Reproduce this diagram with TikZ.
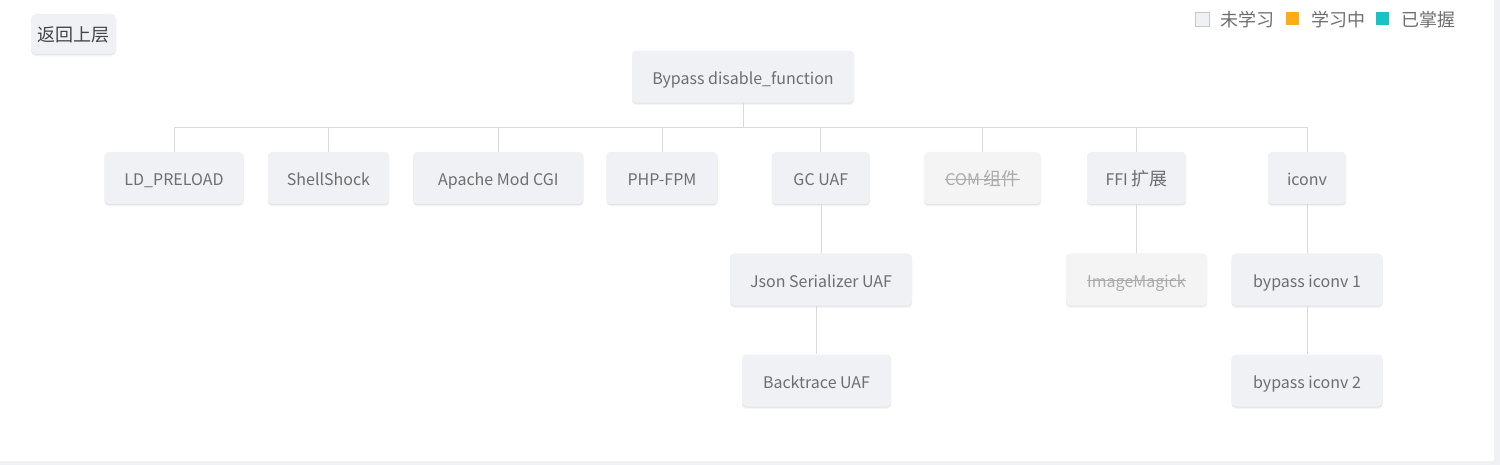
\documentclass[tikz,border=0pt]{standalone}
\usepackage{fontspec}
\setmainfont{Noto Sans CJK SC}
\usetikzlibrary{shadows}
\definecolor{nodefill}{HTML}{F0F1F5}
\definecolor{txt}{HTML}{6E6E6E}
\definecolor{darktxt}{HTML}{444444}
\definecolor{edgec}{HTML}{D9D9D9}
\definecolor{dimfill}{HTML}{F4F4F5}
\definecolor{dimtxt}{HTML}{ABABAB}
\definecolor{orangec}{HTML}{FCAC17}
\definecolor{tealc}{HTML}{17C3C3}
\definecolor{barc}{HTML}{F0F1F5}
\definecolor{chkborder}{HTML}{C8C8C8}
\newsavebox\strkbox
\newcommand\strk[1]{\sbox\strkbox{#1}\rlap{\usebox\strkbox}\raisebox{0.39em}{\rule{\wd\strkbox}{0.7pt}}}
\newcommand\nodefont{\fontsize{16}{19}\selectfont}
\newcommand\zh[1]{{\fontsize{18}{20}\selectfont #1}}
\tikzset{
  softshadow/.style={
    drop shadow={shadow xshift=0pt, shadow yshift=-1pt, opacity=0.07, fill=black},
    drop shadow={shadow xshift=0pt, shadow yshift=-2.5pt, opacity=0.04, fill=black}},
  box/.style={fill=nodefill, rounded corners=4pt, text=txt, minimum height=52pt,
    inner xsep=0pt, inner ysep=0pt, font=\nodefont, text height=15.8pt, text depth=0.2pt, softshadow},
  dimbox/.style={box, fill=dimfill, text=dimtxt},
  link/.style={draw=edgec, line width=1pt},
  legtext/.style={text=txt, font=\nodefont, inner sep=0pt, anchor=base west},
}
\begin{document}
\begin{tikzpicture}[x=1pt,y=-1pt]
\useasboundingbox (0,0) rectangle (1500,465);
\fill[white] (0,0) rectangle (1500,465);
\fill[barc] (1494,0) rectangle (1500,465);
\fill[barc] (0,461) rectangle (1500,465);

% back button
\node[box, text=darktxt, minimum width=85pt, minimum height=40pt, rounded corners=5pt, text height=15pt] (back) at (73.5,34) {\zh{返回上层}};

% legend
\node[draw=chkborder, fill=nodefill, line width=0.8pt, minimum size=14pt, inner sep=0pt] (chk) at (1202.5,19.3) {};
\node[legtext] (l1) at (1220,26.5) {\zh{未学习}};
\node[fill=orangec, minimum size=12.5pt, inner sep=0pt] (sqo) at (1292.5,18.7) {};
\node[legtext] (l2) at (1311,26.5) {\zh{学习中}};
\node[fill=tealc, minimum size=12.5pt, inner sep=0pt] (sqt) at (1382.5,18.7) {};
\node[legtext] (l3) at (1401,26.5) {\zh{已掌握}};

% nodes
\node[box, minimum width=222pt] (root) at (743,76.7) {Bypass disable\_function};
\node[box, minimum width=139pt] (ld) at (174,178) {LD\_PRELOAD};
\node[box, minimum width=121pt] (shell) at (328.5,178) {ShellShock};
\node[box, minimum width=170pt] (apache) at (498.3,178) {Apache Mod CGI};
\node[box, minimum width=111pt] (php) at (662,178) {PHP-FPM};
\node[box, minimum width=98pt] (gc) at (820.8,178) {GC UAF};
\node[dimbox, minimum width=117pt] (com) at (982.5,178) {\strk{COM \zh{组件}}};
\node[box, minimum width=99pt] (ffi) at (1136.5,178) {FFI \zh{扩展}};
\node[box, minimum width=78pt] (iconv) at (1307,178) {iconv};
\node[box, minimum width=182pt] (json) at (821,279.5) {Json Serializer UAF};
\node[dimbox, minimum width=141pt] (img) at (1136.5,279.5) {\strk{ImageMagick}};
\node[box, minimum width=151pt] (ic1) at (1307,279.5) {bypass iconv 1};
\node[box, minimum width=149pt] (bt) at (816.5,380.5) {Backtrace UAF};
\node[box, minimum width=151pt] (ic2) at (1307,380.5) {bypass iconv 2};

\coordinate (hl) at (743,127.5);
% connectors
\draw[link] (root.south) -- (root.south |- hl);
\draw[link] (ld.north |- hl) -- (iconv.north |- hl);
\foreach \c in {ld,shell,apache,php,gc,com,ffi,iconv}
  \draw[link] (\c.north) -- (\c.north |- hl);
\draw[link] (json.north) -- (json.north |- gc.south);
\draw[link] (bt.north) -- (bt.north |- json.south);
\draw[link] (img.north) -- (img.north |- ffi.south);
\draw[link] (ic1.north) -- (ic1.north |- iconv.south);
\draw[link] (ic2.north) -- (ic2.north |- ic1.south);
\end{tikzpicture}
\end{document}
